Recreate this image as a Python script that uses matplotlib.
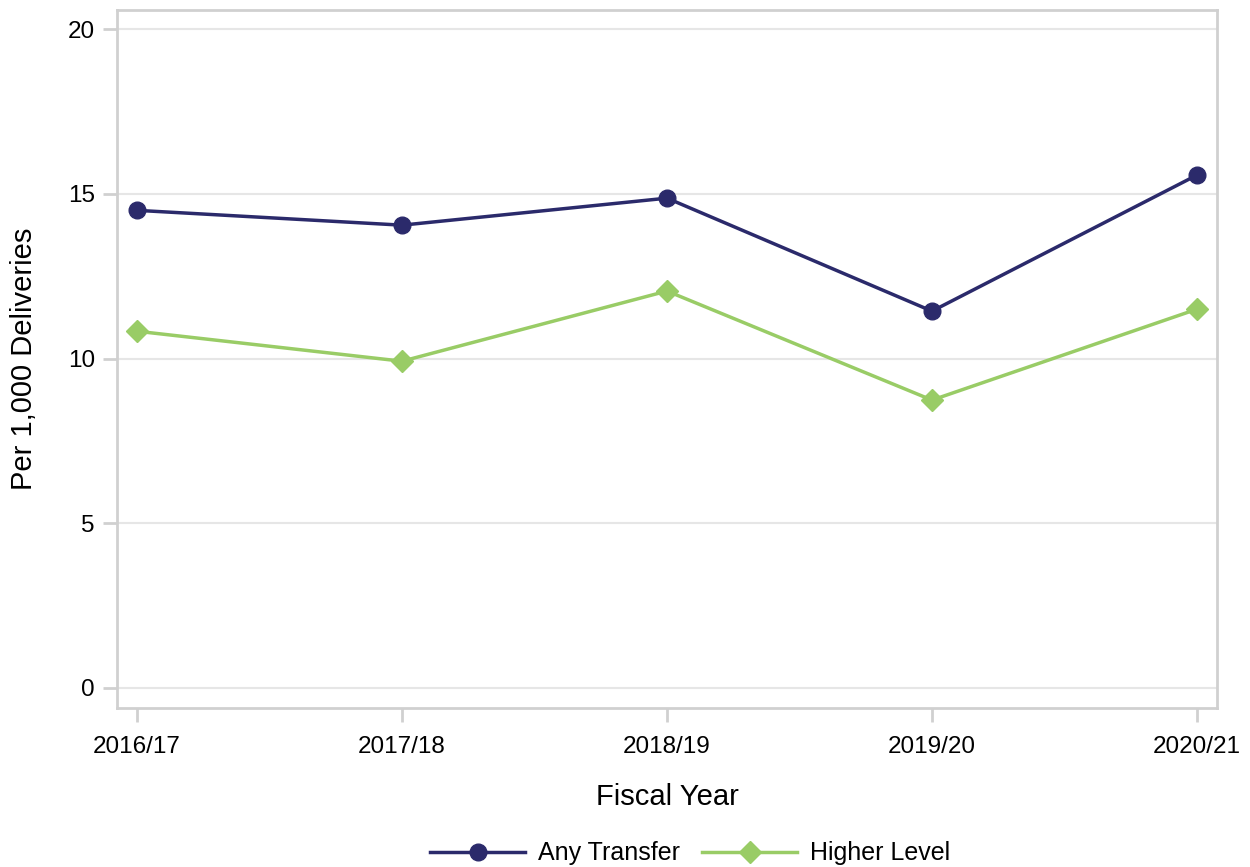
import matplotlib
matplotlib.use("Agg")
import matplotlib.pyplot as plt

years = ["2016/17", "2017/18", "2018/19", "2019/20", "2020/21"]
any_transfer = [14.5, 14.05, 14.87, 11.44, 15.57]
higher_level = [10.83, 9.92, 12.05, 8.74, 11.50]
y_ticks = [0, 5, 10, 15, 20]

plt.rcParams['font.family'] = ['Liberation Sans', 'DejaVu Sans']

fig = plt.figure(figsize=(12.5, 8.67), dpi=100)
ax = fig.add_axes([0.0936, 0.1834, 0.88, 0.805])

x = list(range(len(years)))
ax.plot(x, any_transfer, color="#2b2a6b", lw=2.5, marker="o", ms=12, label="Any Transfer", zorder=3)
ax.plot(x, higher_level, color="#99cc66", lw=2.5, marker="D", ms=11, label="Higher Level", zorder=3)

ax.set_xlim(-0.0756, 4.0756)
ax.set_ylim(-0.607, 20.58)
ax.set_xticks(x)
ax.set_xticklabels(years)
ax.set_yticks(y_ticks)
ax.grid(axis="y", color="#e6e6e6", lw=1.5)
ax.set_axisbelow(True)
for s in ax.spines.values():
    s.set_color("#d0d0d0")
    s.set_linewidth(2)
ax.tick_params(axis="both", color="#d0d0d0", width=2, length=10, labelsize=17.5, pad=6)
ax.tick_params(axis="x", pad=10)
ax.set_xlabel("Fiscal Year", fontsize=21, labelpad=18)
ax.set_ylabel("Per 1,000 Deliveries", fontsize=21, labelpad=21)

fig.legend(loc="lower center", bbox_to_anchor=(0.552, -0.024), ncol=2, frameon=False,
           fontsize=18, handlelength=3.8, columnspacing=0.9, handletextpad=0.5)

fig.savefig("out.png", dpi=100)
